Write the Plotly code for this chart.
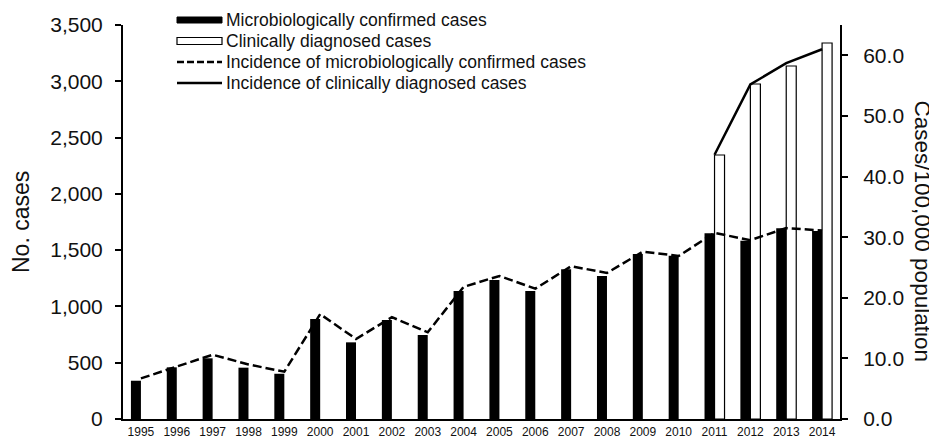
import plotly.graph_objects as go

years = [str(y) for y in range(1995, 2015)]
micro_cases = [340, 459, 539, 456, 402, 888, 681, 880, 746, 1137,
               1235, 1137, 1330, 1270, 1466, 1451, 1650, 1584, 1694, 1670]
clinical_cases = [None] * 16 + [2345, 2976, 3136, 3340]
micro_incidence = [6.7, 8.6, 10.6, 9.0, 7.8, 17.3, 13.2, 16.8, 14.3, 21.8,
                   23.6, 21.5, 25.2, 24.1, 27.6, 26.9, 30.7, 29.5, 31.5, 31.1]
clinical_incidence = [None] * 16 + [43.6, 55.2, 58.7, 61.0]

legend_labels = ["Microbiologically confirmed cases",
                 "Clinically diagnosed cases",
                 "Incidence of microbiologically confirmed cases",
                 "Incidence of clinically diagnosed cases"]

FONT = "Liberation Sans, Arial, sans-serif"
INK = "#111111"

fig = go.Figure()
fig.add_trace(go.Bar(x=years, y=micro_cases, name=legend_labels[0],
                     marker=dict(color="#000000", line=dict(width=0)),
                     showlegend=False))
fig.add_trace(go.Bar(x=years, y=clinical_cases, name=legend_labels[1],
                     marker=dict(color="#ffffff", line=dict(color="#000000", width=1.2)),
                     showlegend=False))
fig.add_trace(go.Scatter(x=years, y=micro_incidence, name=legend_labels[2], yaxis="y2",
                         mode="lines", line=dict(color="#000000", width=2.5, dash="9px,4px"),
                         showlegend=False))
fig.add_trace(go.Scatter(x=years, y=clinical_incidence, name=legend_labels[3], yaxis="y2",
                         mode="lines", line=dict(color="#000000", width=2.5),
                         showlegend=False, connectgaps=False))

# page-pixel geometry of the plot area; the page body has an 8px default margin
OFF = 8
W, H = 937 - OFF, 439 - OFF
L, R, T, B = 123, 840, 25, 419
def px(x):
    return (x - L) / (R - L)
def py(y):
    return (B - y) / (B - T)

shapes = [
    dict(type="rect", xref="paper", yref="paper", x0=px(177), x1=px(222), y0=py(23), y1=py(17),
         fillcolor="#000000", line=dict(color="#000000", width=1)),
    dict(type="rect", xref="paper", yref="paper", x0=px(177), x1=px(222), y0=py(44.5), y1=py(37.5),
         fillcolor="#ffffff", line=dict(color="#000000", width=1.2)),
    dict(type="line", xref="paper", yref="paper", x0=px(177), x1=px(222), y0=py(62), y1=py(62),
         line=dict(color="#000000", width=2.5, dash="7px,3px")),
    dict(type="line", xref="paper", yref="paper", x0=px(177), x1=px(222), y0=py(83), y1=py(83),
         line=dict(color="#000000", width=2.5)),
]
annotations = []
for lbl, yc in zip(legend_labels, [20, 41, 62, 83]):
    annotations.append(dict(text=lbl, xref="paper", yref="paper", x=px(224), y=py(yc),
                            xanchor="left", yanchor="middle", showarrow=False,
                            font=dict(family=FONT, size=17.5, color=INK)))
annotations.append(dict(text="No. cases", xref="paper", yref="paper", x=px(21), y=py(222),
                        xanchor="center", yanchor="middle", textangle=-90, showarrow=False,
                        font=dict(family=FONT, size=23, color=INK)))
annotations.append(dict(text="Cases/100,000 population", xref="paper", yref="paper",
                        x=px(922.5), y=py(231), xanchor="center", yanchor="middle", textangle=90,
                        showarrow=False, font=dict(family=FONT, size=22.5, color=INK)))

fig.update_layout(
    width=W, height=H,
    margin=dict(l=L - OFF, r=W - (R - OFF), t=T - OFF, b=H - (B - OFF), autoexpand=False),
    paper_bgcolor="#ffffff", plot_bgcolor="#ffffff",
    barmode="group", bargap=0.442, bargroupgap=0,
    font=dict(family=FONT, color=INK),
    shapes=shapes, annotations=annotations,
    xaxis=dict(type="category", range=[-0.5, 19.5], showline=True, linecolor="#000000",
               linewidth=2, ticks="", showgrid=False, zeroline=False, automargin=False,
               ticklabelstandoff=1,
               tickfont=dict(family=FONT, size=12, color=INK)),
    yaxis=dict(range=[0, 3500], dtick=500, tickformat=",", showline=True,
               linecolor="#000000", linewidth=2, ticks="outside", ticklen=6, tickwidth=2,
               tickcolor="#000000", showgrid=False, zeroline=False, ticklabelstandoff=8,
               automargin=False, tickfont=dict(family=FONT, size=21, color=INK)),
    yaxis2=dict(range=[0, 65], dtick=10, tickformat=".1f", overlaying="y", side="right",
                showline=True, linecolor="#000000", linewidth=2, ticks="outside", ticklen=6,
                tickwidth=2, tickcolor="#000000", showgrid=False, zeroline=False,
                ticklabelstandoff=11, automargin=False,
                tickfont=dict(family=FONT, size=21, color=INK)),
)

fig.write_html("out.html")
